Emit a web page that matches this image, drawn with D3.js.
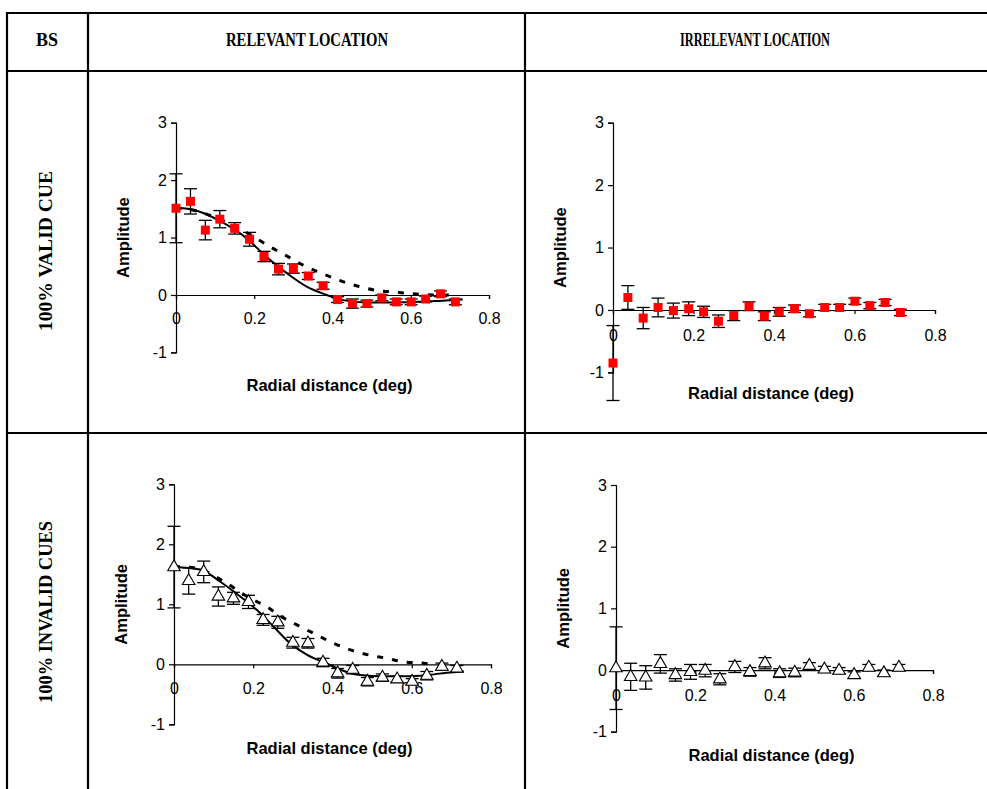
<!DOCTYPE html>
<meta charset="utf-8">
<style>
body { margin: 0; background: #fff; }
.tick text { font-family: "Liberation Sans", Arial, sans-serif; font-size: 16px; }
.ttl { font-family: "Liberation Sans", Arial, sans-serif; font-size: 16.5px; font-weight: bold; }
.hdr { font-family: "Liberation Serif", "Times New Roman", serif; font-size: 18px; font-weight: bold; }
</style>
<body>
<script src="https://d3js.org/d3.v7.min.js"></script>
<script>

// radial distance of each sample (deg)
var xDist = [0, 0.037, 0.075, 0.112, 0.150, 0.188, 0.225, 0.262, 0.300, 0.338,
             0.376, 0.413, 0.451, 0.488, 0.526, 0.563, 0.601, 0.638, 0.676, 0.714];

// 100% valid cue, relevant location
var validRelAmp = [1.51, 1.63, 1.13, 1.32, 1.16, 0.97, 0.67, 0.45, 0.46, 0.33,
                   0.16, -0.08, -0.15, -0.15, -0.05, -0.12, -0.12, -0.07, 0.02, -0.12];
var validRelErr = [0.6, 0.22, 0.17, 0.15, 0.1, 0.12, 0.09, 0.1, 0.08, 0.06,
                   0.06, 0.05, 0.08, 0.06, 0.05, 0.05, 0.05, 0.05, 0.05, 0.05];
var validRelFitX = [0, 0.03, 0.061, 0.112, 0.18, 0.23, 0.283, 0.334, 0.385, 0.427, 0.487, 0.555, 0.623, 0.68, 0.733];
var validRelFitY = [1.52, 1.5, 1.45, 1.29, 0.99, 0.67, 0.38, 0.145, 0.0, -0.09, -0.13, -0.13, -0.12, -0.1, -0.08];
var validRelModX = [0, 0.06, 0.1, 0.15, 0.197, 0.24, 0.283, 0.325, 0.368, 0.415, 0.461, 0.513, 0.56, 0.606, 0.657, 0.712];
var validRelModY = [1.52, 1.45, 1.35, 1.2, 1.02, 0.84, 0.68, 0.52, 0.39, 0.26, 0.16, 0.08, 0.05, 0.02, 0.0, 0.0];

// 100% valid cue, irrelevant location
var validIrrAmp = [-0.85, 0.20, -0.13, 0.04, -0.01, 0.02, -0.03, -0.18, -0.09, 0.06,
                   -0.10, -0.03, 0.02, -0.06, 0.04, 0.04, 0.14, 0.07, 0.12, -0.04];
var validIrrErr = [0.6, 0.19, 0.17, 0.15, 0.12, 0.11, 0.09, 0.1, 0.08, 0.07,
                   0.07, 0.07, 0.06, 0.05, 0.05, 0.05, 0.05, 0.05, 0.05, 0.05];

// 100% invalid cues, relevant location
var invalidRelAmp = [1.62, 1.39, 1.54, 1.13, 1.10, 1.04, 0.74, 0.70, 0.36, 0.35,
                     0.03, -0.15, -0.09, -0.29, -0.22, -0.25, -0.29, -0.19, -0.04, -0.07];
var invalidRelErr = [0.68, 0.22, 0.18, 0.16, 0.1, 0.11, 0.09, 0.1, 0.09, 0.08,
                     0.07, 0.08, 0.07, 0.07, 0.06, 0.05, 0.05, 0.07, 0.06, 0.05];
var invalidRelFitX = [0, 0.066, 0.116, 0.167, 0.21, 0.251, 0.293, 0.335, 0.386, 0.42, 0.47, 0.529, 0.588, 0.638, 0.689, 0.731];
var invalidRelFitY = [1.62, 1.58, 1.38, 1.13, 0.9, 0.63, 0.35, 0.16, 0.01, -0.09, -0.18, -0.2, -0.2, -0.18, -0.14, -0.12];
var invalidRelModX = [0, 0.057, 0.133, 0.184, 0.234, 0.272, 0.318, 0.36, 0.403, 0.445, 0.495, 0.537, 0.579, 0.626, 0.655];
var invalidRelModY = [1.63, 1.6, 1.35, 1.13, 0.96, 0.79, 0.63, 0.49, 0.35, 0.24, 0.15, 0.1, 0.04, 0.02, 0.0];

// 100% invalid cues, irrelevant location
var invalidIrrAmp = [0.03, -0.11, -0.12, 0.10, -0.08, -0.03, -0.01, -0.15, 0.05, -0.03,
                     0.11, -0.05, -0.04, 0.07, 0.01, -0.01, -0.08, 0.04, -0.05, 0.04];
var invalidIrrErr = [0.67, 0.22, 0.19, 0.15, 0.1, 0.12, 0.1, 0.09, 0.09, 0.07,
                     0.09, 0.07, 0.07, 0.05, 0.05, 0.05, 0.05, 0.05, 0.05, 0.05];

var xTicks = [0, 0.2, 0.4, 0.6, 0.8];
var xTickLabels = ["0", "0.2", "0.4", "0.6", "0.8"];
var yTicks = [-1, 0, 1, 2, 3];
var yTickLabels = ["-1", "0", "1", "2", "3"];
var colHeads = ["BS", "RELEVANT  LOCATION", "IRRELEVANT LOCATION"];
var rowHeads = ["100% VALID CUE", "100% INVALID CUES"];

var W = 987, H = 789;
var svg = d3.select("body").append("svg")
    .attr("width", W)
    .attr("height", H);

// table grid
var gx = [7, 88, 525], gy = [13, 71, 433];
var grid = svg.append("g").attr("stroke", "#000").attr("stroke-width", 2.2);
gx.forEach(function(x) {
  grid.append("line").attr("x1", x).attr("x2", x).attr("y1", gy[0] - 1).attr("y2", H + 5);
});
gy.forEach(function(y) {
  grid.append("line").attr("x1", gx[0] - 1).attr("x2", W + 5).attr("y1", y).attr("y2", y);
});

// header texts (narrow, like the original)
var hdrPos = [[47, 22], [307, 162], [755, 150]];
colHeads.forEach(function(t, i) {
  svg.append("text").attr("class", "hdr")
     .attr("x", hdrPos[i][0]).attr("y", 46)
     .attr("text-anchor", "middle")
     .attr("textLength", hdrPos[i][1]).attr("lengthAdjust", "spacingAndGlyphs")
     .text(t);
});
var rowPos = [[251, 160], [612, 182]];
rowHeads.forEach(function(t, i) {
  svg.append("text").attr("class", "hdr")
     .attr("transform", "translate(52," + rowPos[i][0] + ") rotate(-90)")
     .attr("text-anchor", "middle")
     .attr("textLength", rowPos[i][1]).attr("lengthAdjust", "spacingAndGlyphs")
     .text(t);
});

// one panel
function panel(p) {
  var x = d3.scaleLinear().domain([0, 0.8]).range([p.x0, p.x1]);
  var y = d3.scaleLinear().domain([-1, 3]).range([p.yb, p.yt]);
  var g = svg.append("g");

  // y axis
  var ya = g.append("g")
      .attr("transform", "translate(" + p.x0 + ",0)")
      .call(d3.axisLeft(y).tickValues(yTicks)
            .tickFormat(function(d, i) { return yTickLabels[i]; })
            .tickSize(5).tickPadding(4));
  // x axis through zero
  var xa = g.append("g")
      .attr("transform", "translate(0," + y(0) + ")")
      .call(d3.axisBottom(x).tickValues(xTicks)
            .tickFormat(function(d, i) { return xTickLabels[i]; })
            .tickSize(4).tickPadding(p.xPad));
  [ya, xa].forEach(function(a) {
    a.select(".domain").attr("stroke", "#000").attr("stroke-width", 1.2);
    a.selectAll(".tick line").attr("stroke", "#000").attr("stroke-width", 1.2);
    a.selectAll(".tick text").attr("fill", "#000");
  });

  // axis titles
  g.append("text").attr("class", "ttl")
   .attr("transform", "translate(" + (p.x0 - 53) + "," + y(1) + ") rotate(-90)")
   .attr("text-anchor", "middle").attr("dy", "0.35em")
   .text("Amplitude");
  g.append("text").attr("class", "ttl")
   .attr("x", (p.x0 + p.x1) / 2 - 3).attr("y", y(-1) + p.tOff)
   .attr("text-anchor", "middle")
   .text("Radial distance (deg)");

  // fitted curves
  var line = d3.line()
      .x(function(d) { return x(d[0]); })
      .y(function(d) { return y(d[1]); })
      .curve(d3.curveMonotoneX);
  if (p.modX) {
    g.append("path").datum(d3.zip(p.modX, p.modY))
     .attr("fill", "none").attr("stroke", "#000").attr("stroke-width", 3)
     .attr("stroke-dasharray", "6,9")
     .attr("d", line);
  }
  if (p.fitX) {
    g.append("path").datum(d3.zip(p.fitX, p.fitY))
     .attr("fill", "none").attr("stroke", "#000").attr("stroke-width", 2)
     .attr("d", line);
  }

  // error bars
  var pts = d3.zip(xDist, p.amp, p.err);
  var eb = g.append("g").attr("stroke", "#000").attr("stroke-width", 1.3);
  pts.forEach(function(d) {
    var cx = x(d[0]), lo = y(d[1] - d[2]), hi = y(d[1] + d[2]);
    eb.append("line").attr("x1", cx).attr("x2", cx).attr("y1", lo).attr("y2", hi);
    eb.append("line").attr("x1", cx - 6.5).attr("x2", cx + 6.5).attr("y1", lo).attr("y2", lo);
    eb.append("line").attr("x1", cx - 6.5).attr("x2", cx + 6.5).attr("y1", hi).attr("y2", hi);
  });

  // markers
  var m = g.append("g");
  if (p.marker === "square") {
    m.selectAll("rect").data(pts).join("rect")
     .attr("x", function(d) { return x(d[0]) - 4.5; })
     .attr("y", function(d) { return y(d[1]) - 4.5; })
     .attr("width", 9).attr("height", 9)
     .attr("fill", "#ff0000");
  } else {
    m.selectAll("path").data(pts).join("path")
     .attr("transform", function(d) { return "translate(" + x(d[0]) + "," + y(d[1]) + ")"; })
     .attr("d", d3.symbol(d3.symbolTriangle, 68))
     .attr("fill", "#fff").attr("stroke", "#000").attr("stroke-width", 1.1);
  }
}

panel({x0: 176, x1: 489, yt: 122.7, yb: 352.4, tOff: 39, xPad: 14, marker: "square",
       amp: validRelAmp, err: validRelErr,
       fitX: validRelFitX, fitY: validRelFitY, modX: validRelModX, modY: validRelModY});
panel({x0: 613, x1: 935, yt: 122.7, yb: 372.4, tOff: 27, xPad: 16, marker: "square",
       amp: validIrrAmp, err: validIrrErr});
panel({x0: 174, x1: 491, yt: 484.3, yb: 724.3, tOff: 30, xPad: 14, marker: "triangle",
       amp: invalidRelAmp, err: invalidRelErr,
       fitX: invalidRelFitX, fitY: invalidRelFitY, modX: invalidRelModX, modY: invalidRelModY});
panel({x0: 616, x1: 933, yt: 485, yb: 731.7, tOff: 29, xPad: 16, marker: "triangle",
       amp: invalidIrrAmp, err: invalidIrrErr});

</script>
</body>
